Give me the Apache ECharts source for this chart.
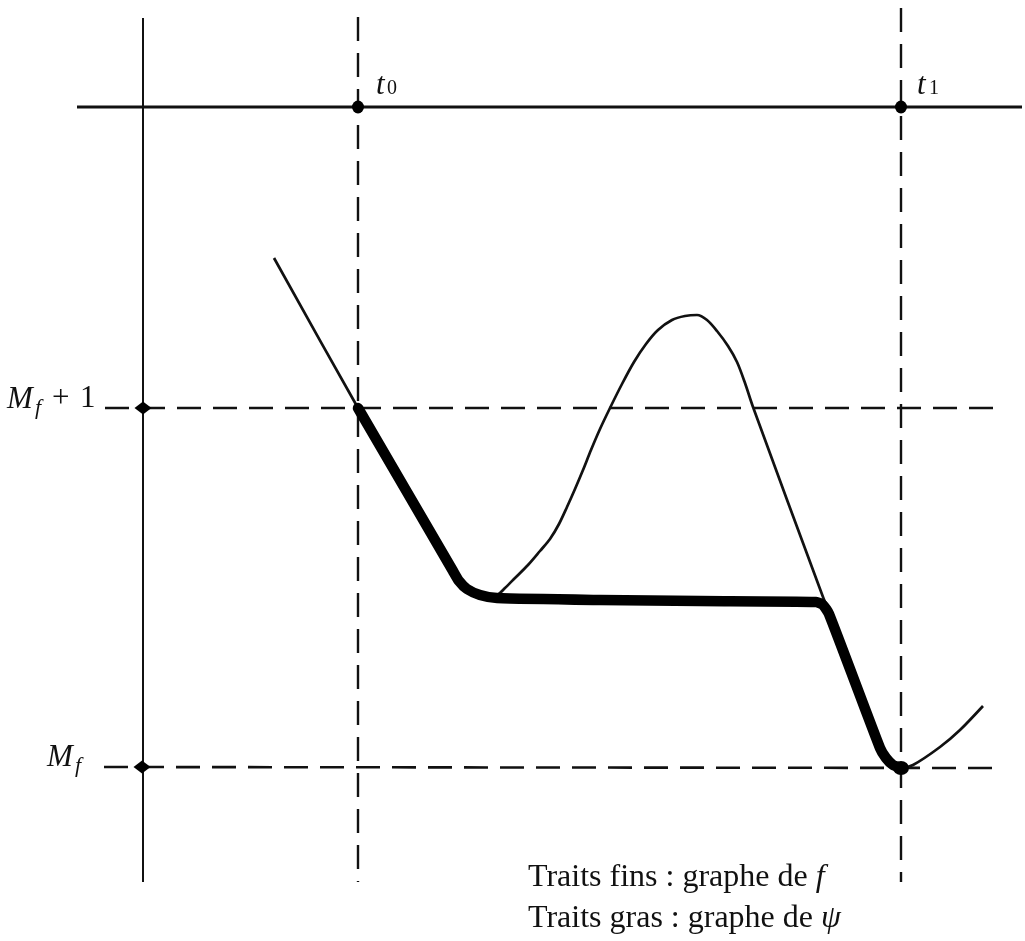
<!DOCTYPE html>
<html>
<head>
<meta charset="utf-8">
<style>
  html, body { margin: 0; padding: 0; background: #fff; }
  #chart { width: 1025px; height: 941px; }
</style>
<script src="https://cdn.jsdelivr.net/npm/echarts@6/dist/echarts.min.js"></script>
</head>
<body>
<div id="chart"></div>
<script>
// ---- data (x to the right, y downward) ----
const verticalAxis   = [[143, 18], [143, 882]];
const horizontalAxis = [[77, 107], [1022, 107]];
const t0Line  = [[358, 17], [358, 882]];
const t1Line  = [[901, 8], [901, 882]];
const mf1Line = [[105, 408], [1003, 408]];
const mfLine  = [[104, 767], [997, 768]];

// thin curve: graph of f
const fCurve = [
  [274, 258], [358, 408], [452, 570], [461, 583], [474, 592], [488, 596],
  [497, 595], [505, 588], [515, 578], [528, 565], [540, 551], [550, 539],
  [559, 524], [567, 507], [575, 489], [583, 470], [591, 450], [600, 429],
  [610, 408], [622, 384], [634, 362], [646, 344], [658, 330], [672, 320],
  [685, 316], [697, 315], [707, 320], [717, 331], [728, 346], [737, 362],
  [745, 383], [753, 407], [823, 597], [830, 613], [880, 749], [890, 763],
  [901, 768], [913, 765], [940, 747], [960, 730], [983, 706]
];

// thick curve: graph of psi
const psiCurve = [
  [358, 408], [453, 571], [459, 581], [467, 589], [480, 595], [497, 598],
  [600, 600], [700, 601], [816, 602], [823, 605], [829, 614], [880, 748],
  [886, 758], [893, 765], [901, 768]
];

// marked points
const axisDots    = [[358, 107], [901, 107]];
const levelDots   = [[143, 408], [142, 767]];
const endDot      = [[901, 768]];

// labels
const tickLabels   = ['t', '0', 't', '1'];
const levelLabels  = ['M', 'f', '+', '1', 'M', 'f'];
const legendTexts  = ['Traits fins : graphe de ', 'Traits gras : graphe de '];
const legendSymbols = ['f', 'ψ'];

// ---- chart ----
const chart = echarts.init(document.getElementById('chart'), null, { renderer: 'canvas' });

const SERIF = '"Liberation Serif", "DejaVu Serif", serif';
function txt(x, y, text, size, italic) {
  return {
    type: 'text', x: x, y: y, z: 100,
    style: {
      text: text,
      font: (italic ? 'italic ' : '') + size + 'px ' + SERIF,
      fill: '#111',
      textAlign: 'left', textVerticalAlign: 'middle',
      align: 'left', verticalAlign: 'middle'
    }
  };
}

function lineSeries(data, width, dashed, z) {
  return {
    type: 'line', data: data, symbol: 'none', silent: true, z: z || 2,
    animation: false, smooth: false,
    lineStyle: {
      color: '#111', width: width,
      type: dashed ? [24, 12] : 'solid',
      cap: 'butt', join: 'round'
    }
  };
}

function dotSeries(data, symbol, size) {
  return {
    type: 'scatter', data: data, symbol: symbol, symbolSize: size, z: 5,
    itemStyle: { color: '#000', opacity: 1 }, silent: true, animation: false
  };
}

const option = {
  animation: false,
  backgroundColor: '#fff',
  grid: { left: 0, right: 0, top: 0, bottom: 0 },
  xAxis: { type: 'value', min: 0, max: 1025, show: false },
  yAxis: { type: 'value', min: 0, max: 941, inverse: true, show: false },
  series: [
    lineSeries(verticalAxis, 2, false),
    lineSeries(horizontalAxis, 2.8, false),
    lineSeries(t0Line, 2.4, true),
    lineSeries(t1Line, 2.4, true),
    lineSeries(mf1Line, 2.6, true),
    lineSeries(mfLine, 2.6, true),
    Object.assign(lineSeries(fCurve, 2.7, false, 3), { smooth: 0.3 }),
    {
      type: 'line', data: psiCurve, symbol: 'none', silent: true, z: 4,
      smooth: 0.2, animation: false,
      lineStyle: { color: '#000', width: 10.5, cap: 'round', join: 'round' }
    },
    dotSeries(axisDots, 'circle', [12, 13]),
    dotSeries(levelDots, 'diamond', [17, 13]),
    dotSeries(endDot, 'circle', [16, 14])
  ],
  graphic: [
    // t0
    txt(376, 86, tickLabels[0], 31, true),
    txt(387, 89, tickLabels[1], 20, false),
    // t1
    txt(917, 86, tickLabels[2], 31, true),
    txt(929, 89, tickLabels[3], 20, false),
    // M_f + 1
    txt(7, 400, levelLabels[0], 31, true),
    txt(35, 408, levelLabels[1], 22, true),
    txt(52, 399, levelLabels[2], 31, false),
    txt(80, 399, levelLabels[3], 31, false),
    // M_f
    txt(47, 758, levelLabels[4], 31, true),
    txt(75, 766, levelLabels[5], 22, true),
    // legend
    {
      type: 'text', x: 528, y: 878, z: 100,
      style: {
        text: '{n|' + legendTexts[0] + '}{i|' + legendSymbols[0] + '}',
        textVerticalAlign: 'middle', verticalAlign: 'middle',
        rich: {
          n: { font: '32px ' + SERIF, fill: '#111' },
          i: { font: 'italic 32px ' + SERIF, fill: '#111' }
        }
      }
    },
    {
      type: 'text', x: 528, y: 919, z: 100,
      style: {
        text: '{n|' + legendTexts[1] + '}{i|' + legendSymbols[1] + '}',
        textVerticalAlign: 'middle', verticalAlign: 'middle',
        rich: {
          n: { font: '32px ' + SERIF, fill: '#111' },
          i: { font: 'italic 32px ' + SERIF, fill: '#111' }
        }
      }
    }
  ]
};

chart.setOption(option);
</script>
</body>
</html>
